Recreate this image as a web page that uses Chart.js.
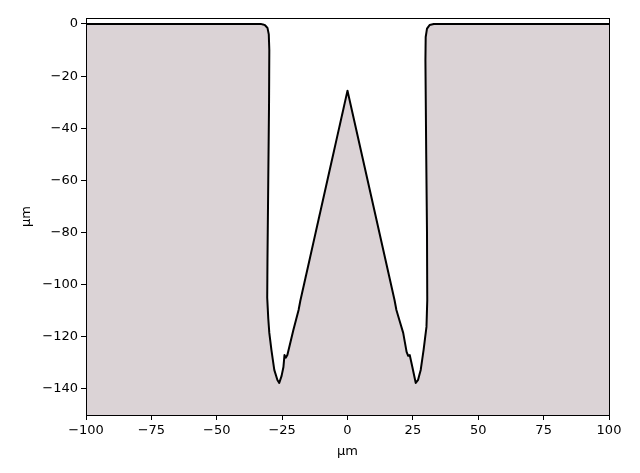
<!DOCTYPE html>
<html>
<head>
<meta charset="utf-8">
<script src="https://cdn.jsdelivr.net/npm/chart.js@4"></script>
<style>
  html, body { margin: 0; padding: 0; background: #fff; }
  #wrap { width: 640px; height: 473px; }
</style>
</head>
<body>
<div id="wrap"><canvas id="grafico"></canvas></div>
<script>
// perfil medido (x en µm, profundidad en µm)
const xs = [-100, -33, -31.6, -30.6, -30.1, -29.9, -30.0, -30.3, -30.6, -30.7, -30.3, -29.9, -29.1, -28.0,
  -26.8, -26.1, -25.2, -24.5, -24.1, -23.6, -23.0, -21.8, -20.7, -18.7, -18.0, 0,
  18.0, 18.7, 21.3, 22.6, 23.2, 23.8, 24.8, 26.1, 27.0, 28.0, 29.1, 30.2, 30.5, 30.4, 30.1, 29.8,
  29.9, 30.4, 31.4, 33, 100];
const ys = [0, 0, -0.4, -1.5, -4, -10, -30, -60, -90, -105, -113, -118.5, -125, -132.7,
  -136.6, -137.7, -135, -131.6, -127, -128, -127, -122, -117.4, -109.7, -106, -25.6,
  -106, -109.7, -118.5, -125.8, -127.3, -127, -131.6, -137.7, -136.5, -132.7, -125, -116.2, -106, -80, -50, -14,
  -5, -1.8, -0.4, 0, 0];

const xTicks = [-100, -75, -50, -25, 0, 25, 50, 75, 100];
const yTicks = [-140, -120, -100, -80, -60, -40, -20, 0];

const puntos = xs.map((x, i) => ({ x: x, y: ys[i] }));

const fuente = { family: "DejaVu Sans", size: 13 };
const menos = v => String(v).replace('-', '\u2212');

// marco completo alrededor del area del grafico
const marco = {
  id: 'marco',
  afterDraw(chart) {
    const a = chart.chartArea;
    const ctx = chart.ctx;
    ctx.save();
    ctx.strokeStyle = '#000';
    ctx.lineWidth = 1;
    ctx.strokeRect(Math.round(a.left) + 0.5, Math.round(a.top) + 0.5,
      Math.round(a.right - a.left), Math.round(a.bottom - a.top));
    ctx.restore();
  }
};

new Chart(document.getElementById("grafico"), {
  type: 'line',
  data: {
    datasets: [{
      data: puntos,
      borderColor: '#000',
      borderWidth: 2,
      borderJoinStyle: 'round',
      borderCapStyle: 'round',
      backgroundColor: '#dbd3d6',
      fill: 'start',
      pointRadius: 0,
      tension: 0.000001 // evita el "fast path" que junta puntos de la misma columna
    }]
  },
  options: {
    responsive: true,
    maintainAspectRatio: false,
    animation: false,
    layout: { padding: { left: 0, right: 31, top: 18, bottom: 0 } },
    plugins: { legend: { display: false }, tooltip: { enabled: false } },
    scales: {
      x: {
        type: 'linear',
        min: -100,
        max: 100,
        afterBuildTicks: s => { s.ticks = xTicks.map(v => ({ value: v })); },
        afterFit: s => { s.height = 58; },
        ticks: { color: '#000', font: fuente, padding: 3, maxRotation: 0, callback: menos },
        grid: { drawOnChartArea: false, drawTicks: true, tickLength: 5, color: '#000' },
        border: { display: true, color: '#000' },
        title: { display: true, text: 'µm', color: '#000', font: fuente, padding: { top: 0, bottom: 14 } }
      },
      y: {
        type: 'linear',
        min: -150,
        max: 2.3,
        afterBuildTicks: s => { s.ticks = yTicks.map(v => ({ value: v })); },
        afterFit: s => { s.width = 86; },
        ticks: { color: '#000', font: fuente, padding: 3, callback: menos },
        grid: { drawOnChartArea: false, drawTicks: true, tickLength: 5, color: '#000' },
        border: { display: true, color: '#000' },
        title: { display: true, text: 'µm', color: '#000', font: fuente, padding: { top: 19, bottom: 0 } }
      }
    }
  },
  plugins: [marco]
});
</script>
</body>
</html>
